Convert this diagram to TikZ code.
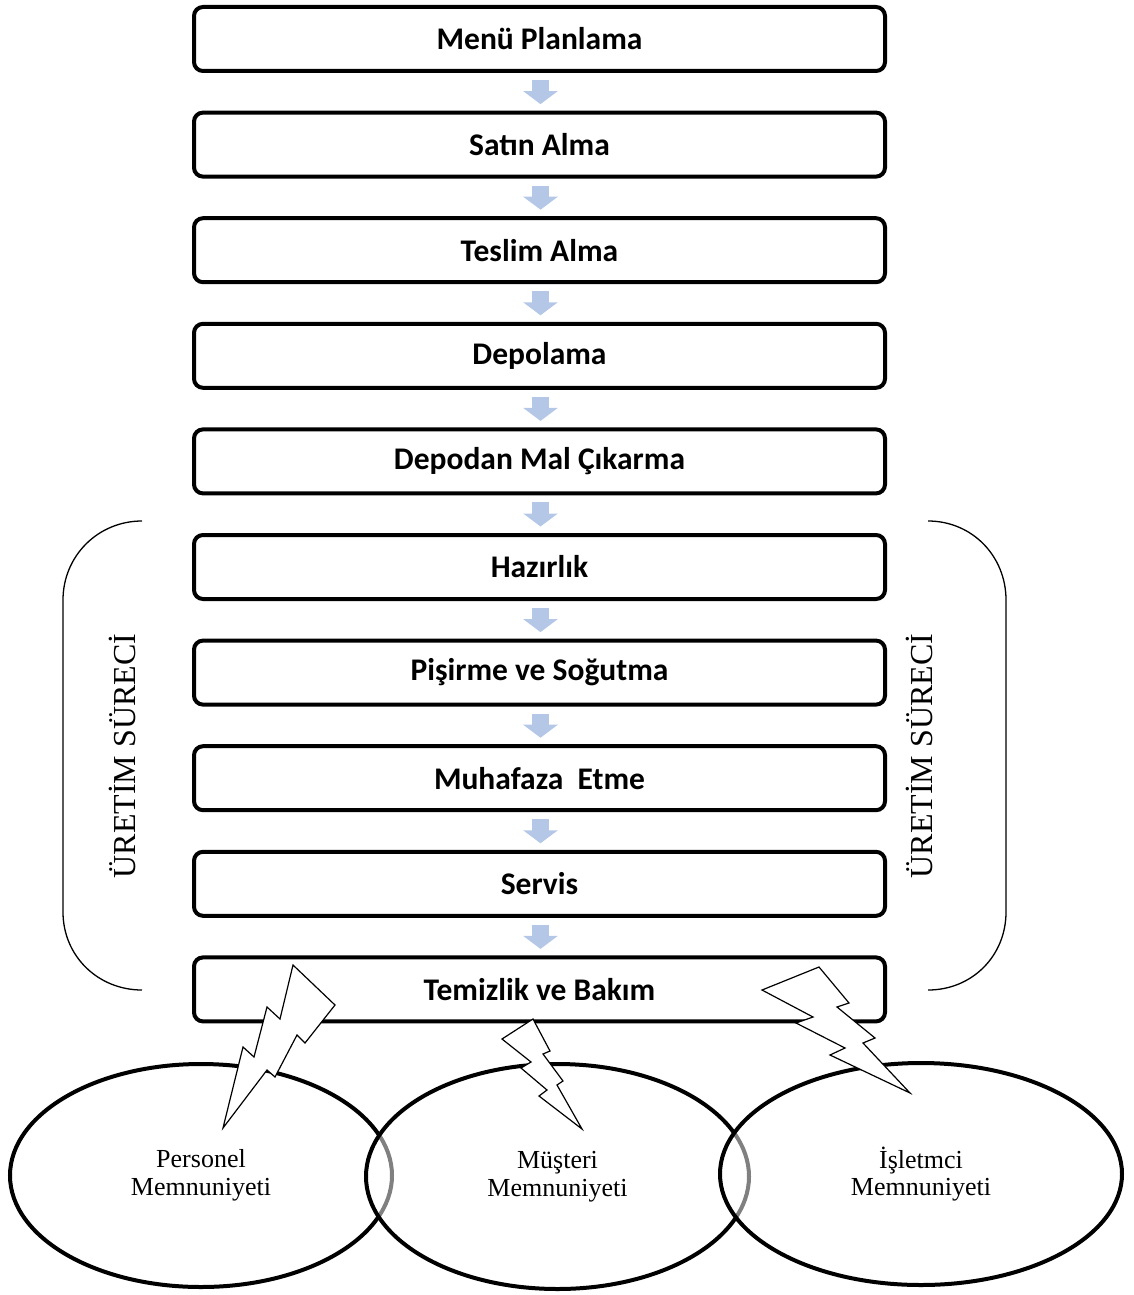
\documentclass[tikz,border=0pt]{standalone}
\usepackage{fontspec}
\setmainfont{Liberation Serif}
\newfontfamily\stepfont{Carlito}
\usetikzlibrary{shapes.geometric,arrows.meta,calc}
\definecolor{flowblue}{RGB}{180,199,231}
\begin{document}
\begin{tikzpicture}[x=1pt,y=-1pt,
  stepbox/.style={draw,line width=4pt,rounded corners=9pt,fill=white,
    minimum width=691pt,minimum height=64pt,inner sep=0pt,
    font=\stepfont\bfseries\fontsize{31.5}{36}\selectfont},
  flowarrow/.style={draw=flowblue,line width=17pt,
    -{Triangle[width=34pt,length=13pt]}},
  goal/.style={ellipse,draw,line width=4pt,fill=white,fill opacity=0.5,
    text opacity=1,inner sep=0pt,align=center,
    font=\fontsize{26}{27.5}\selectfont},
  bolt/.style={draw,line width=1.2pt,fill=white,line join=miter},
  brace/.style={draw,line width=1.3pt},
  phase/.style={rotate=90,anchor=base,font=\fontsize{32}{36}\selectfont}]

\useasboundingbox (0,0) rectangle (1133,1295);

% process steps
\foreach \name/\label [count=\i from 0] in {
  s1/{Menü Planlama},
  s2/{Satın Alma},
  s3/{Teslim Alma},
  s4/{Depolama},
  s5/{Depodan Mal Çıkarma},
  s6/{Hazırlık},
  s7/{Pişirme ve Soğutma},
  s8/{Muhafaza\ \ Etme},
  s9/{Servis},
  s10/{Temizlik ve Bakım}}
  \node[stepbox] (\name) at (539.5,{39+\i*105.6}) {\label};

% arrows between consecutive steps
\foreach \a/\b in {s1/s2,s2/s3,s3/s4,s4/s5,s5/s6,s6/s7,s7/s8,s8/s9,s9/s10}
  \draw[flowarrow] ($(\a.south)+(1,7)$) -- ($(\b.north)+(1,-6.5)$);

% production-process brackets
\draw[brace] (142,521) .. controls (98,521) and (63,556) .. (63,600)
  -- (63,912) .. controls (63,956) and (98,990) .. (142,990);
\draw[brace] (928,521) .. controls (972,521) and (1006,556) .. (1006,600)
  -- (1006,912) .. controls (1006,956) and (972,990) .. (928,990);
\node[phase] (pl) at (135,756) {ÜRETİM SÜRECİ};
\node[phase] (pr) at (932,756) {ÜRETİM SÜRECİ};

% satisfaction ellipses
\node[goal,minimum width=382pt,minimum height=223pt] (e1) at (201,1175.5)
  {Personel\\Memnuniyeti};
\node[goal,minimum width=383pt,minimum height=225pt] (e2) at (557.5,1176.5)
  {Müşteri\\Memnuniyeti};
\node[goal,minimum width=402pt,minimum height=222pt] (e3) at (921,1174)
  {İşletmci\\Memnuniyeti};

% lightning bolts
\path[bolt] (293,965) -- (335,1005) -- (305,1043) -- (297,1035) -- (275,1077)
  -- (267,1070) -- (223,1128) -- (243,1047) -- (254,1057) -- (267,1007)
  -- (280,1019) -- cycle;
\path[bolt] (533,1019) -- (550,1051) -- (543,1054) -- (563,1081) -- (557,1085)
  -- (582,1129) -- (539,1096) -- (547,1090) -- (521,1068) -- (531,1062)
  -- (502,1039) -- cycle;
\path[bolt] (819,967) -- (849,1003) -- (837,1007) -- (875,1038) -- (863,1043)
  -- (910,1093) -- (830,1055) -- (845,1048) -- (796,1023) -- (813,1017)
  -- (762,990) -- cycle;
\end{tikzpicture}
\end{document}
